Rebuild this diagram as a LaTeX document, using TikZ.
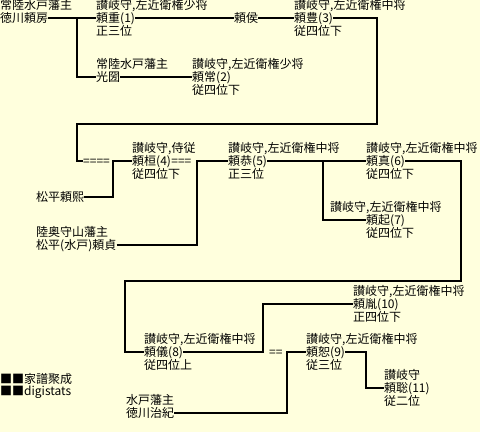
\documentclass[tikz,border=0pt]{standalone}
\usepackage{fontspec}
\setmainfont{Noto Sans CJK JP}
\definecolor{paper}{RGB}{255,255,221}

\begin{document}
\begin{tikzpicture}[
  x=1pt,y=-1pt,
  link/.style={line width=2pt},
  lord/.style={anchor=west,inner sep=0pt,font=\fontsize{12}{12}\selectfont,
    text height=10.75pt,text depth=1.75pt},
  office/.style={lord,anchor=south west},
  grade/.style={lord,anchor=north west},
  credit/.style={anchor=west,inner sep=0pt,align=left,
    font=\fontsize{12}{12.5}\selectfont}
]
  \fill[paper] (0,0) rectangle (480,432);
  \useasboundingbox (0,0) rectangle (480,432);

  % first generations
  \node[lord,label={[office]north west:常陸水戸藩主}] (fusa) at (0,18) {徳川頼房};
  \node[lord,label={[office]north west:{讃岐守,左近衛権少将}},
    label={[grade]south west:正三位}] (l1) at (96,18) {頼重(1)};
  \node[lord,label={[office]north west:常陸水戸藩主}] (mitsukuni) at (96,77) {光圀};
  \node[lord,label={[office]north west:{讃岐守,左近衛権少将}},
    label={[grade]south west:従四位下}] (l2) at (192,77) {頼常(2)};
  \node[lord] (koto) at (234,18) {頼侯};
  \node[lord,label={[office]north west:{讃岐守,左近衛権中将}},
    label={[grade]south west:従四位下}] (l3) at (294,18) {頼豊(3)};

  \coordinate (fork1) at (77,18);
  \draw[link] (fusa.east) -- (l1.west);
  \draw[link] (fork1) |- (mitsukuni.west);
  \draw[link] (mitsukuni.east) -- (l2.west);
  \draw[link] (l1.east) -- (koto.west);
  \draw[link] (koto.east) -- (l3.west);

  % middle rows
  \node[lord] (eq4) at (83,161) {====};
  \node[lord,label={[office]north west:{讃岐守,侍従}},
    label={[grade]south west:従四位下}] (l4) at (132,161) {頼桓(4)};
  \node[lord] (eq3) at (l4.east) {===};
  \node[lord] (hiroki) at (36,197) {松平頼熙};
  \node[lord,label={[office]north west:陸奥守山藩主}] (sada) at (36,245) {松平(水戸)頼貞};
  \node[lord,label={[office]north west:{讃岐守,左近衛権中将}},
    label={[grade]south west:正三位}] (l5) at (228,161) {頼恭(5)};
  \node[lord,label={[office]north west:{讃岐守,左近衛権中将}},
    label={[grade]south west:従四位下}] (l6) at (366,161) {頼真(6)};
  \node[lord,label={[office,xshift=-36pt]north west:{讃岐守,左近衛権中将}},
    label={[grade]south west:従四位下}] (l7) at (366,220) {頼起(7)};

  \draw[link] (l3.east) -| (377,124) -- (77,124) |- (eq4.west);
  \draw[link] (hiroki.east) -| (113,161) -- (l4.west);
  \draw[link] (sada.east) -| (197,161) -- (l5.west);
  \coordinate (fork2) at (323,161);
  \draw[link] (l5.east) -- (l6.west);
  \draw[link] (fork2) |- (l7.west);

  % last rows
  \node[lord,label={[office]north west:{讃岐守,左近衛権中将}},
    label={[grade]south west:従四位上}] (l8) at (144,352) {頼儀(8)};
  \node[lord] (eq2) at (269,352) {==};
  \node[lord,label={[office]north west:{讃岐守,左近衛権中将}},
    label={[grade]south west:従三位}] (l9) at (306,352) {頼恕(9)};
  \node[lord,label={[office]north west:{讃岐守,左近衛権中将}},
    label={[grade]south west:正四位下}] (l10) at (353,304) {頼胤(10)};
  \node[lord,label={[office]north west:讃岐守},
    label={[grade]south west:従二位}] (l11) at (384,388) {頼聡(11)};
  \node[lord,label={[office]north west:水戸藩主}] (haru) at (126,413) {徳川治紀};

  \draw[link] (l6.east) -| (461,281) -- (125,281) |- (l8.west);
  \draw[link] (l8.east) -| (263,304) -- (l10.west);
  \draw[link] (haru.east) -| (287,352) -- (l9.west);
  \draw[link] (l9.east) -| (366,388) -- (l11.west);

  \node[credit] (credit) at (0,386) {■■家譜聚成\\■■digistats};
\end{tikzpicture}
\end{document}
